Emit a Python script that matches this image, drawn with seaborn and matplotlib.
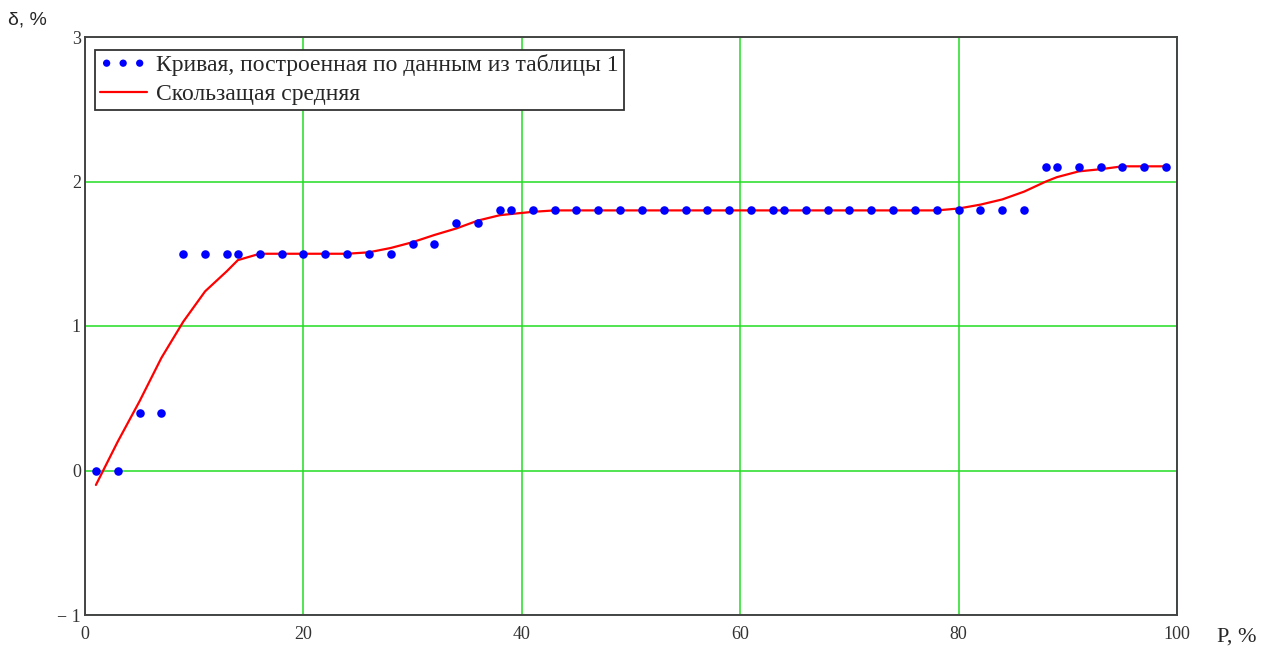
import matplotlib
matplotlib.use("Agg")
from matplotlib import pyplot as plt
import seaborn as sns
import pandas as pd

# data
p_vals = [1, 3, 5, 7, 9, 11, 13, 14, 16, 18, 20, 22, 24, 26, 28, 30, 32, 34, 36,
          38, 39, 41, 43, 45, 47, 49, 51, 53, 55, 57, 59, 61, 63, 64, 66, 68, 70,
          72, 74, 76, 78, 80, 82, 84, 86, 88, 89, 91, 93, 95, 97, 99]
delta_vals = [0, 0, 0.4, 0.4, 1.5, 1.5, 1.5, 1.5, 1.5, 1.5, 1.5, 1.5, 1.5, 1.5, 1.5,
              1.57, 1.57, 1.71, 1.71, 1.8, 1.8, 1.8, 1.8, 1.8, 1.8, 1.8, 1.8, 1.8,
              1.8, 1.8, 1.8, 1.8, 1.8, 1.8, 1.8, 1.8, 1.8, 1.8, 1.8, 1.8, 1.8, 1.8,
              1.8, 1.8, 1.8, 2.1, 2.1, 2.1, 2.1, 2.1, 2.1, 2.1]
# moving average curve
ma_vals = [-0.1, 0.2, 0.48, 0.78, 1.03, 1.24, 1.38, 1.456, 1.5, 1.5, 1.5, 1.5, 1.5,
           1.51, 1.54, 1.58, 1.63, 1.675, 1.73, 1.767, 1.775, 1.79, 1.8, 1.8, 1.8,
           1.8, 1.8, 1.8, 1.8, 1.8, 1.8, 1.8, 1.8, 1.8, 1.8, 1.8, 1.8, 1.8, 1.8,
           1.8, 1.8, 1.813, 1.84, 1.876, 1.93, 2.0, 2.03, 2.07, 2.085, 2.105, 2.105, 2.105]

x_ticks = [0, 20, 40, 60, 80, 100]
y_ticks = [-1, 0, 1, 2, 3]

df = pd.DataFrame({"P": p_vals, "delta": delta_vals, "ma": ma_vals})

sns.set_style("white")
plt.rcParams["font.family"] = ["Liberation Serif", "DejaVu Serif"]

fig = plt.figure(figsize=(12.61, 6.46), dpi=100)
ax = fig.add_axes([85 / 1261, 31 / 646, 1092 / 1261, 578 / 646])

sns.lineplot(data=df, x="P", y="ma", color="#ff0000", linewidth=1.6,
             label="Скользащая средняя", ax=ax, zorder=3)
sns.scatterplot(data=df, x="P", y="delta", color="#0000ff", s=38, linewidth=0,
                label="Кривая, построенная по данным из таблицы 1", ax=ax, zorder=4)

ax.set_xlim(0, 100)
ax.set_ylim(-1, 3)
ax.set_xticks(x_ticks)
ax.set_yticks(y_ticks)
ax.set_yticklabels(["\u2212 1", "0", "1", "2", "3"])
ax.set_xlabel("")
ax.set_ylabel("")
ax.grid(True, color="#22dd22", linewidth=1.1)
ax.set_axisbelow(True)
ax.tick_params(axis="both", length=0, labelsize=13, colors="#333333")
ax.tick_params(axis="x", pad=8)
ax.tick_params(axis="y", pad=3)
for sp in ax.spines.values():
    sp.set_color("#444444")
    sp.set_linewidth(1.4)

# legend: dots first, line second
handles, labels = ax.get_legend_handles_labels()
order = [labels.index("Кривая, построенная по данным из таблицы 1"),
         labels.index("Скользащая средняя")]
leg = ax.legend([handles[i] for i in order], [labels[i] for i in order],
                loc="upper left", bbox_to_anchor=(0.009, 0.978), scatterpoints=3,
                scatteryoffsets=[0.5], markerscale=0.85, fontsize=17, frameon=True,
                fancybox=False, framealpha=1, edgecolor="#333333", borderpad=0.2,
                labelspacing=0.3, handlelength=2.0, handletextpad=0.4, borderaxespad=0)
leg.get_frame().set_linewidth(1.3)

fig.text(8 / 1261, 1 - 20 / 646, "δ, %", fontsize=14, va="center", ha="left",
         family=["Liberation Sans", "DejaVu Sans"])
fig.text(1217 / 1261, 1 - 628 / 646, "P, %", fontsize=16, va="top", ha="left")

fig.savefig("out.png", dpi=100)
